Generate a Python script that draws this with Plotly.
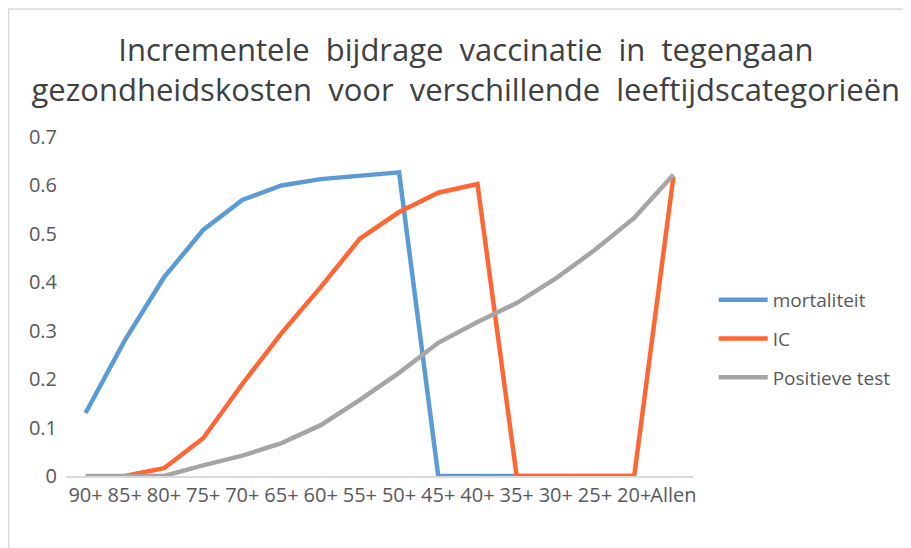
import plotly.graph_objects as go

categories = ["90+", "85+", "80+", "75+", "70+", "65+", "60+", "55+", "50+",
              "45+", "40+", "35+", "30+", "25+", "20+", "Allen"]
mortaliteit = [0.13, 0.28, 0.41, 0.508, 0.57, 0.60, 0.613, 0.62, 0.627,
               0, 0, 0, 0, 0, 0, None]
ic = [None, 0, 0.016, 0.078, 0.19, 0.295, 0.39, 0.49, 0.545,
      0.585, 0.603, 0, 0, 0, 0, 0.618]
positieve_test = [0, 0, 0, 0.022, 0.042, 0.068, 0.105, 0.157, 0.213,
                  0.275, 0.318, 0.357, 0.408, 0.467, 0.533, 0.622]
y_ticks = [0, 0.1, 0.2, 0.3, 0.4, 0.5, 0.6, 0.7]
y_tick_labels = ["0", "0.1", "0.2", "0.3", "0.4", "0.5", "0.6", "0.7"]
title_lines = ["Incrementele bijdrage vaccinatie in tegengaan",
               "gezondheidskosten voor verschillende leeftijdscategorieën"]

series = [
    ("mortaliteit", mortaliteit, "#5B9BD5"),
    ("IC", ic, "#FF6633"),
    ("Positieve test", positieve_test, "#A5A5A5"),
]

fig = go.Figure()
for name, vals, col in series:
    fig.add_trace(go.Scatter(
        x=categories, y=vals, name=name, mode="lines", legendgroup=name,
        line=dict(color=col, width=4.5), connectgaps=False,
    ))

# page body has an 8px margin: the figure is sized/positioned to compensate
W, H = 903, 540
L, R, T, B = 58, 218, 129, 72
pw, ph = W - L - R, H - T - B

font_family = "Open Sans, Liberation Sans, sans-serif"
gap = "\u00a0\u00a0"
title_text = "<br>".join(gap.join(line.split(" ")) for line in title_lines)

fig.update_layout(
    width=W, height=H,
    margin=dict(l=L, r=R, t=T, b=B),
    paper_bgcolor="white", plot_bgcolor="white",
    title=dict(
        text=title_text,
        x=0.507, xref="container", xanchor="center",
        y=1 - 53 / H, yref="container", yanchor="top",
        font=dict(family=font_family, size=31, color="#404040"),
    ),
    showlegend=True,
    legend=dict(
        x=1.033, xanchor="left", y=(468 - 331) / ph, yanchor="middle",
        font=dict(family=font_family, size=19, color="#595959"),
        tracegroupgap=11, itemwidth=49, bgcolor="rgba(0,0,0,0)",
    ),
    xaxis=dict(
        type="category", range=[-0.5, 15.5],
        showgrid=False, showline=True, linecolor="#D9D9D9", linewidth=2,
        ticks="", tickfont=dict(family=font_family, size=20, color="#595959"),
        layer="below traces", tickangle=0, zeroline=False,
    ),
    yaxis=dict(
        range=[0, 0.7], tickvals=y_ticks, ticktext=y_tick_labels,
        showgrid=False, showline=False, zeroline=False, ticks="",
        ticklabelstandoff=8,
        tickfont=dict(family=font_family, size=20, color="#595959"),
    ),
    shapes=[
        dict(type="line", xref="paper", yref="paper",
             x0=(0 - L) / pw, x1=(W - L) / pw,
             y0=(468 - 1) / ph, y1=(468 - 1) / ph,
             line=dict(color="#D9D9D9", width=1.5)),
        dict(type="line", xref="paper", yref="paper",
             x0=(0.5 - L) / pw, x1=(0.5 - L) / pw,
             y0=(468 - 1) / ph, y1=(468 - H) / ph,
             line=dict(color="#D9D9D9", width=1.5)),
    ],
)

fig.write_html("out.html")
